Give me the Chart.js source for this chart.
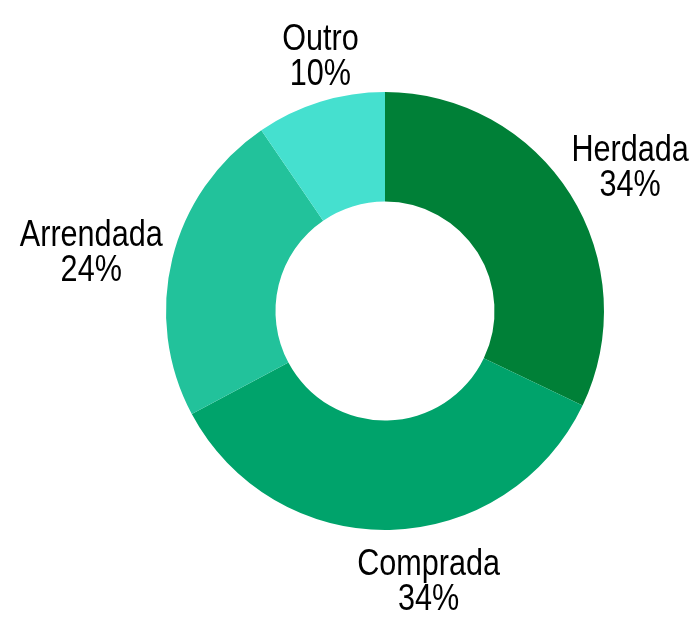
<!DOCTYPE html>
<html>
<head>
<meta charset="utf-8">
<script src="https://cdn.jsdelivr.net/npm/chart.js@4/dist/chart.umd.min.js"></script>
<style>
  html, body { margin: 0; padding: 0; background: #fff; }
  #wrap { width: 693px; height: 617px; position: relative; }
</style>
</head>
<body>
<div id="wrap"><canvas id="chartPosse"></canvas></div>
<script>
// Dados
const categorias = ['Herdada', 'Comprada', 'Arrendada', 'Outro'];
const valores = [32.1, 35.1, 23.25, 9.55];
const rotulosPct = ['34%', '34%', '24%', '10%'];
const cores = ['#008037', '#00a36b', '#22c29b', '#45e0cf'];

const fonteRotulo = '36px "Liberation Sans", Arial, sans-serif';

// Rótulos fora do anel, ancorados no ângulo médio de cada fatia
const rotulosExternos = {
  id: 'rotulosExternos',
  afterDatasetsDraw(chart, args, opts) {
    const ctx = chart.ctx;
    const meta = chart.getDatasetMeta(0);
    const sx = opts.condensar; // fonte estreita simulada
    ctx.save();
    ctx.font = fonteRotulo;
    ctx.fillStyle = '#000';
    ctx.textAlign = 'center';
    ctx.textBaseline = 'middle';
    const lh = opts.lineHeight;
    meta.data.forEach((arc, i) => {
      const p = arc.getProps(['x', 'y', 'startAngle', 'endAngle', 'outerRadius'], true);
      const mid = (p.startAngle + p.endAngle) / 2;
      const r = p.outerRadius + opts.gap;
      const ax = p.x + Math.cos(mid) * r;
      const ay = p.y + Math.sin(mid) * r;
      const linhas = [categorias[i], rotulosPct[i]];
      const w = Math.max(...linhas.map(t => ctx.measureText(t).width)) * sx;
      const h = lh * linhas.length;
      const nudge = (opts.nudge && opts.nudge[i]) || [0, 0];
      const cx = ax + Math.cos(mid) * w / 2 + nudge[0];
      const cy = ay + Math.sin(mid) * h / 2 + nudge[1];
      linhas.forEach((t, k) => {
        ctx.save();
        ctx.translate(cx, cy - h / 2 + lh * (k + 0.5));
        ctx.scale(sx, 1);
        ctx.fillText(t, 0, 0);
        ctx.restore();
      });
    });
    ctx.restore();
  }
};

const ctx = document.getElementById('chartPosse').getContext('2d');
new Chart(ctx, {
  type: 'doughnut',
  data: {
    labels: categorias,
    datasets: [{
      data: valores,
      backgroundColor: cores,
      borderWidth: 0,
      hoverOffset: 0
    }]
  },
  options: {
    responsive: true,
    maintainAspectRatio: false,
    animation: false,
    cutout: '50%',
    layout: { padding: { left: 166, right: 89, top: 92, bottom: 87 } },
    plugins: {
      legend: { display: false },
      tooltip: { enabled: false },
      rotulosExternos: {
        gap: 12,
        lineHeight: 35,
        condensar: 0.85,
        nudge: [[0, -1], [37, 6], [0, 6], [15, 1]]
      }
    }
  },
  plugins: [rotulosExternos]
});
</script>
</body>
</html>
